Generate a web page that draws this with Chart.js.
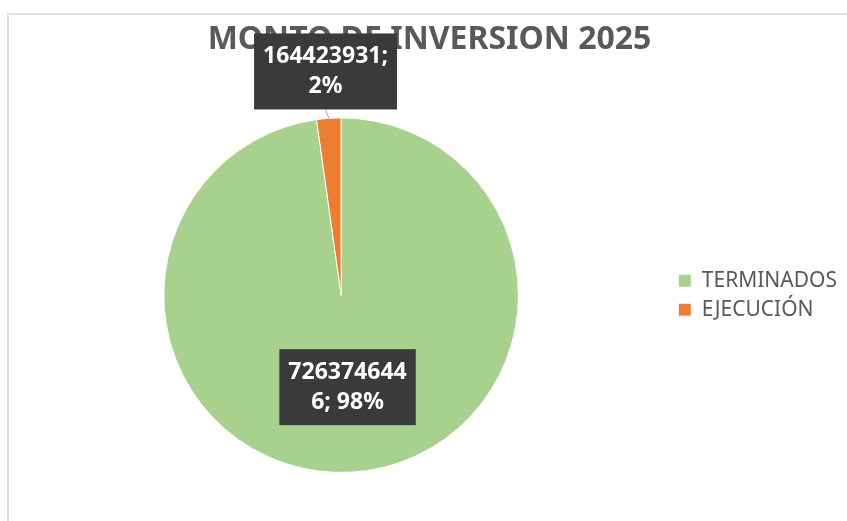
<!DOCTYPE html>
<html>
<head>
<meta charset="utf-8">
<script src="https://cdn.jsdelivr.net/npm/chart.js@4.4.1/dist/chart.umd.min.js"></script>
<style>
  html, body { margin: 0; padding: 0; background: #ffffff; }
  #wrap { position: relative; width: 847px; height: 521px; overflow: hidden; background: #fff; }
  #frame { position: absolute; left: 7px; top: 13px; right: -5px; bottom: -5px;
           border-left: 2px solid #e2e2e2; border-top: 2px solid #e2e2e2; }
  #c { position: absolute; left: 0; top: 0; }
</style>
</head>
<body>
<div id="wrap">
  <div id="frame"></div>
  <canvas id="c" width="847" height="521"></canvas>
</div>
<script>
// ---- data ----
const chartTitle = 'MONTO DE INVERSION 2025';
const categories = ['TERMINADOS', 'EJECUCIÓN'];
const amounts = [7263746446, 164423931];
const sliceColors = ['#A9D18E', '#ED7D31'];
// data label text as wrapped in the reference
const dataLabelLines = [
  ['726374644', '6; 98%'],
  ['164423931;', '2%']
];

const FONT = "'Noto Sans', 'Open Sans', sans-serif";

const dataLabelPlugin = {
  id: 'boxLabels',
  afterDraw(chart, args, opts) {
    const ctx = chart.ctx;
    const meta = chart.getDatasetMeta(0);
    meta.data.forEach((arc, i) => {
      const p = arc.getProps(['x', 'y', 'startAngle', 'endAngle', 'outerRadius'], true);
      const mid = (p.startAngle + p.endAngle) / 2;
      const f = opts.distance[i];
      const cx = p.x + Math.cos(mid) * p.outerRadius * f;
      const cy = p.y + Math.sin(mid) * p.outerRadius * f;
      const lines = dataLabelLines[i];
      ctx.save();
      ctx.font = 'bold ' + opts.fontSize + 'px ' + FONT;
      let w = 0;
      lines.forEach(t => { w = Math.max(w, ctx.measureText(t).width); });
      const bw = w + 2 * opts.padX;
      const bh = lines.length * opts.lineH + 2 * opts.padY;
      const bx = cx - bw / 2, by = cy - bh / 2;
      // leader line for labels placed outside
      if (f > 1) {
        ctx.strokeStyle = '#a6a6a6';
        ctx.lineWidth = 1;
        ctx.beginPath();
        ctx.moveTo(cx, by + bh);
        ctx.lineTo(p.x + Math.cos(mid) * p.outerRadius, p.y + Math.sin(mid) * p.outerRadius);
        ctx.stroke();
      }
      ctx.fillStyle = '#3a3a3a';
      ctx.fillRect(bx, by, bw, bh);
      ctx.fillStyle = '#ffffff';
      ctx.textAlign = 'center';
      ctx.textBaseline = 'middle';
      lines.forEach((t, k) => {
        ctx.fillText(t, cx, by + opts.padY + opts.lineH * (k + 0.5));
      });
      ctx.restore();
    });
  }
};

new Chart(document.getElementById('c'), {
  type: 'pie',
  data: {
    labels: categories,
    datasets: [{
      data: amounts,
      backgroundColor: sliceColors,
      borderColor: '#ffffff',
      borderWidth: 1
    }]
  },
  plugins: [dataLabelPlugin],
  options: {
    responsive: false,
    animation: false,
    devicePixelRatio: 1,
    layout: { padding: { left: 12, right: 0, top: 0, bottom: 48 } },
    plugins: {
      title: {
        display: true,
        text: chartTitle,
        color: '#595959',
        font: { family: FONT, size: 32, weight: 'bold' },
        padding: { top: 21, bottom: 58 }
      },
      legend: {
        display: true,
        position: 'right',
        fullSize: false,
        labels: {
          color: '#595959',
          font: { family: FONT, size: 21 },
          boxWidth: 13,
          boxHeight: 13,
          padding: 8
        }
      },
      tooltip: { enabled: false },
      boxLabels: {
        distance: [0.52, 1.265],
        fontSize: 23,
        lineH: 30,
        padX: 9,
        padY: 8
      }
    }
  }
});
</script>
</body>
</html>
